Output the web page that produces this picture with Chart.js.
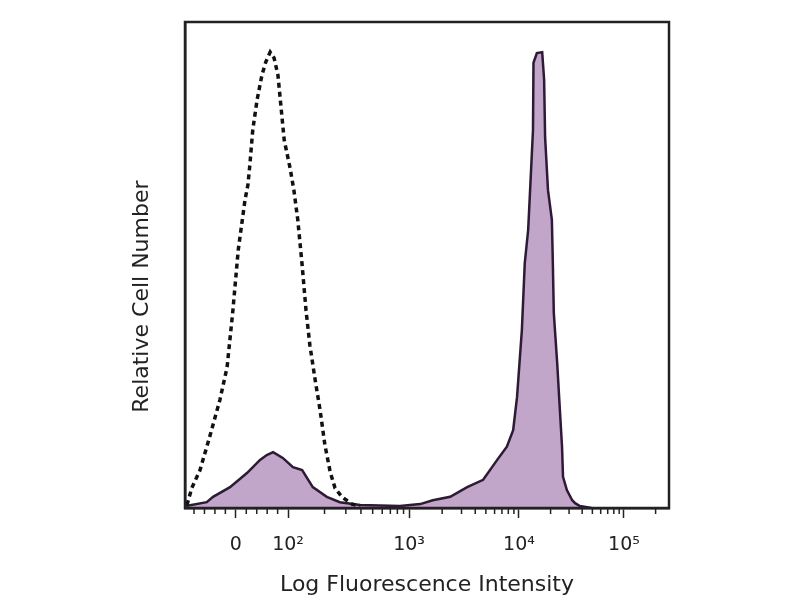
<!DOCTYPE html>
<html>
<head>
<meta charset="utf-8">
<script src="https://cdn.jsdelivr.net/npm/chart.js@4.4.0/dist/chart.umd.min.js"></script>
<style>
  html, body { margin: 0; padding: 0; background: #fff; }
  #wrap { width: 800px; height: 600px; }
</style>
</head>
<body>
<div id="wrap"><canvas id="histograma"></canvas></div>
<script>
// Eixo X em canais (0-1000), posições das décadas
const tickChannels = [105, 213, 463, 690, 907];
const tickLabels = ["0", "10²", "10³", "10⁴", "10⁵"];
const yTitulo = "Relative Cell Number";

// Controle isotípico (linha tracejada)
const isotypeChannels = [4, 14, 31, 52, 72, 87, 99, 110, 124, 130, 134, 140, 149, 159, 167, 176, 184, 192, 198, 205, 217, 225, 233, 242, 250, 258, 269, 279, 289, 300, 310, 324, 345, 362];
const isotypeCounts = [0.6, 4.1, 7.8, 15.0, 22.2, 29.0, 40.7, 53.1, 63.4, 66.5, 70.6, 77.8, 84.0, 89.1, 91.8, 93.8, 92.6, 89.1, 82.9, 75.7, 70.0, 65.4, 59.3, 50.0, 40.7, 33.5, 26.3, 20.2, 13.0, 7.4, 4.1, 2.3, 0.8, 0.4];

// Amostra marcada (área roxa)
const stainedChannels = [2, 45, 58, 93, 128, 155, 169, 182, 202, 223, 242, 264, 293, 320, 362, 444, 486, 512, 548, 583, 616, 645, 665, 678, 686, 696, 702, 709, 713, 719, 720, 727, 738, 742, 744, 750, 758, 760, 762, 769, 773, 779, 781, 789, 800, 806, 816, 840];
const stainedCounts = [0.4, 1.2, 2.3, 4.3, 7.2, 9.9, 10.9, 11.5, 10.3, 8.4, 7.8, 4.3, 2.3, 1.2, 0.6, 0.4, 0.8, 1.6, 2.3, 4.3, 5.8, 9.9, 12.6, 16.0, 22.8, 36.6, 50.4, 57.2, 65.4, 77.8, 91.6, 93.6, 93.8, 88.1, 76.3, 65.4, 59.3, 50.4, 40.1, 29.8, 22.8, 12.6, 6.4, 3.7, 1.6, 1.0, 0.4, 0];

function pontos(xs, ys) {
    return xs.map((x, i) => ({ x: x, y: ys[i] }));
}

// Moldura, marcas menores do eixo e título do eixo Y (deslocado para baixo como no original)
const molduraPlugin = {
    id: "moldura",
    afterDraw(chart) {
        const { ctx, chartArea, scales } = chart;
        const xs = scales.x;
        ctx.save();
        ctx.strokeStyle = "#222";
        ctx.lineWidth = 2.5;
        ctx.strokeRect(chartArea.left, chartArea.top, chartArea.right - chartArea.left, chartArea.bottom - chartArea.top);
        // marcas menores
        const menores = [];
        const passo0 = (tickChannels[1] - tickChannels[0]) / 5;
        for (let k = 1; k <= 4; k++) {
            menores.push(tickChannels[0] + passo0 * k);
            menores.push(tickChannels[0] - passo0 * k);
        }
        for (let d = 1; d < tickChannels.length; d++) {
            const a = tickChannels[d];
            const largura = d < tickChannels.length - 1 ? tickChannels[d + 1] - a : tickChannels[d] - tickChannels[d - 1];
            for (let m = 2; m <= 9; m++) {
                const v = a + Math.log10(m) * largura;
                if (v < xs.max) menores.push(v);
            }
        }
        ctx.lineWidth = 1.5;
        ctx.beginPath();
        menores.forEach(v => {
            if (v < xs.min || v > xs.max) return;
            const px = xs.getPixelForValue(v);
            ctx.moveTo(px, chartArea.bottom);
            ctx.lineTo(px, chartArea.bottom + 6);
        });
        ctx.stroke();
        // título Y
        ctx.translate(chartArea.left - 43, chartArea.top + (chartArea.bottom - chartArea.top) * 0.565);
        ctx.rotate(-Math.PI / 2);
        ctx.fillStyle = "#222";
        ctx.font = "22px 'DejaVu Sans'";
        ctx.textAlign = "center";
        ctx.textBaseline = "middle";
        ctx.fillText(yTitulo, 0, 0);
        ctx.restore();
    }
};

document.addEventListener("DOMContentLoaded", () => {
    const ctx = document.getElementById("histograma").getContext("2d");
    new Chart(ctx, {
        type: "line",
        data: {
            datasets: [
                {
                    label: "Isotipo",
                    data: pontos(isotypeChannels, isotypeCounts),
                    borderColor: "#111",
                    borderWidth: 3.5,
                    borderDash: [5, 4],
                    fill: false,
                    pointRadius: 0,
                    tension: 0,
                    order: 1
                },
                {
                    label: "Marcado",
                    data: pontos(stainedChannels, stainedCounts),
                    borderColor: "#2e1a36",
                    backgroundColor: "#c2a6c9",
                    borderWidth: 2.5,
                    fill: "origin",
                    pointRadius: 0,
                    tension: 0,
                    order: 2
                }
            ]
        },
        options: {
            responsive: true,
            maintainAspectRatio: false,
            animation: false,
            layout: {
                padding: { left: 124, right: 131, top: 22, bottom: 0 }
            },
            plugins: {
                legend: { display: false },
                tooltip: { enabled: false }
            },
            scales: {
                x: {
                    type: "linear",
                    min: 0,
                    max: 1000,
                    afterBuildTicks: (scale) => {
                        scale.ticks = tickChannels.map(v => ({ value: v }));
                    },
                    afterFit: (scale) => { scale.height = 92; },
                    ticks: {
                        autoSkip: false,
                        maxRotation: 0,
                        padding: 16,
                        color: "#222",
                        font: { family: "DejaVu Sans", size: 19 },
                        callback: (value, index) => tickLabels[index]
                    },
                    grid: {
                        drawOnChartArea: false,
                        tickLength: 10,
                        tickColor: "#222",
                        tickWidth: 1.5
                    },
                    border: { color: "#222", width: 2.5 },
                    title: {
                        display: true,
                        text: "Log Fluorescence Intensity",
                        color: "#222",
                        font: { family: "DejaVu Sans", size: 22 },
                        padding: { top: 4, bottom: 2 }
                    }
                },
                y: {
                    min: 0,
                    max: 100,
                    afterFit: (scale) => { scale.width = 61; },
                    ticks: { display: false },
                    grid: { drawOnChartArea: false, drawTicks: false },
                    border: { color: "#222", width: 2.5 },
                    title: { display: false }
                }
            }
        },
        plugins: [molduraPlugin]
    });
});
</script>
</body>
</html>
